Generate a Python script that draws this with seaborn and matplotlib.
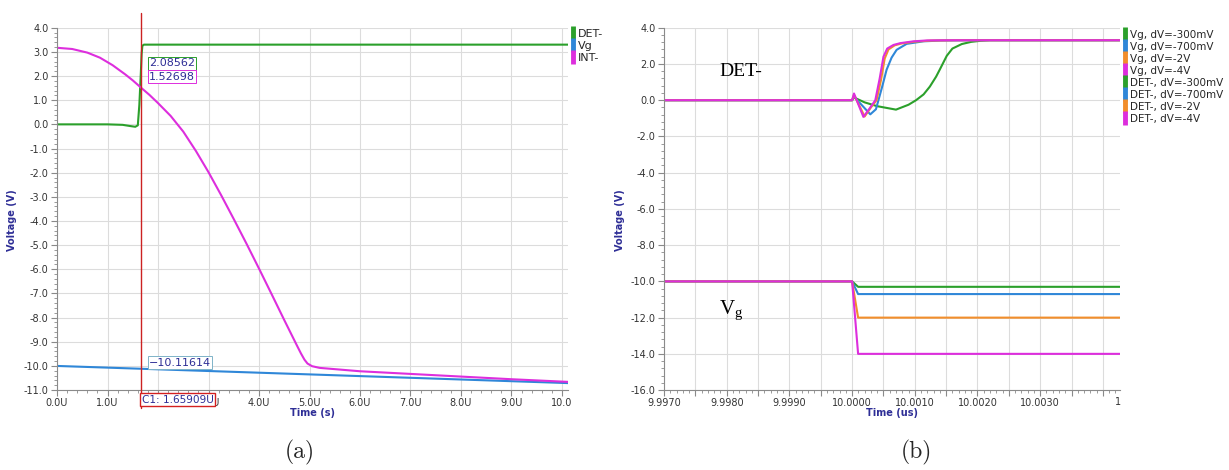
import matplotlib
matplotlib.use("Agg")
import matplotlib.pyplot as plt
import matplotlib.transforms as mtransforms
from matplotlib.lines import Line2D
from matplotlib.ticker import MultipleLocator
import seaborn as sns

GREEN = "#2ba02b"
BLUE = "#2f87d8"
ORANGE = "#f28e2b"
MAGENTA = "#dd2edd"
TEXT_BLUE = "#2e2e96"

# ---- panel (a): time in us ----
A_DET_T = [0.0, 1.0, 1.3, 1.45, 1.55, 1.6, 1.63, 1.659, 1.675, 1.69, 1.72, 10.12]
A_DET_V = [0.0, 0.0, -0.02, -0.07, -0.1, -0.04, 0.8, 2.086, 2.9, 3.25, 3.3, 3.3]

A_VG_T = [0.0, 1.659, 5.0, 10.12]
A_VG_V = [-10.0, -10.116, -10.35, -10.71]

A_INT_T = [0.0, 0.3, 0.6, 0.85, 1.1, 1.35, 1.5, 1.659, 1.83, 2.0, 2.25, 2.5, 2.75,
           3.0, 3.25, 3.5, 3.75, 4.0, 4.25, 4.5, 4.75, 4.83, 4.9, 4.96, 5.05, 5.2,
           6.0, 7.0, 8.0, 9.0, 10.12]
A_INT_V = [3.17, 3.12, 2.97, 2.76, 2.45, 2.07, 1.82, 1.527, 1.22, 0.88, 0.35, -0.3, -1.1,
           -1.98, -2.93, -3.92, -4.93, -5.97, -7.03, -8.1, -9.15, -9.48, -9.74, -9.9, -10.01, -10.08,
           -10.22, -10.33, -10.44, -10.55, -10.66]

A_XTICKS = [0, 1, 2, 3, 4, 5, 6, 7, 8, 9, 10]
A_XLABELS = ["0.0U", "1.0U", "2.0U", "3.0U", "4.0U", "5.0U", "6.0U", "7.0U", "8.0U", "9.0U", "10.0"]
A_YTICKS = [4, 3, 2, 1, 0, -1, -2, -3, -4, -5, -6, -7, -8, -9, -10, -11]

CURSOR_T = 1.659

# ---- panel (b): time in us ----
B_VG_T = [9.997, 10.0, 10.0000957, 10.00427]
B_VG_300 = [-10.0, -10.0, -10.3, -10.3]
B_VG_700 = [-10.0, -10.0, -10.7, -10.7]
B_VG_2 = [-10.0, -10.0, -12.0, -12.0]
B_VG_4 = [-10.0, -10.0, -14.0, -14.0]

B_DET300_T = [9.997, 10.0, 10.00003, 10.0002, 10.0004, 10.0007, 10.0009, 10.00102,
              10.00114, 10.00124, 10.00134, 10.0014, 10.00151, 10.0016, 10.00175,
              10.0019, 10.00205, 10.0022, 10.00427]
B_DET300_V = [0.0, 0.0, 0.15, -0.12, -0.33, -0.52, -0.25, 0.0,
              0.32, 0.75, 1.3, 1.7, 2.45, 2.85, 3.1,
              3.22, 3.28, 3.31, 3.31]

B_DET700_T = [9.997, 10.0, 10.00003, 10.00029, 10.00038, 10.00048, 10.00055, 10.00063,
              10.00071, 10.00087, 10.00114, 10.0014, 10.002, 10.00427]
B_DET700_V = [0.0, 0.0, 0.2, -0.78, -0.5, 0.75, 1.68, 2.35,
              2.78, 3.11, 3.25, 3.29, 3.31, 3.31]

B_DET2_T = [9.997, 10.0, 10.00003, 10.0002, 10.0003, 10.00039, 10.00046, 10.00052,
            10.00058, 10.00068, 10.00079, 10.001, 10.00125, 10.0017, 10.00427]
B_DET2_V = [0.0, 0.0, 0.3, -0.9, -0.4, 0.0, 1.1, 2.3,
            2.8, 3.03, 3.13, 3.23, 3.29, 3.31, 3.31]

B_DET4_T = [9.997, 10.0, 10.00003, 10.00018, 10.00028, 10.00037, 10.00044, 10.0005,
            10.00056, 10.00066, 10.00077, 10.00098, 10.0012, 10.0016, 10.00427]
B_DET4_V = [0.0, 0.0, 0.37, -0.92, -0.45, 0.0, 1.2, 2.4,
            2.85, 3.05, 3.15, 3.25, 3.3, 3.31, 3.31]

B_XTICKS = [9.997, 9.9975, 9.998, 9.9985, 9.999, 9.9995, 10.0, 10.0005,
            10.001, 10.0015, 10.002, 10.0025, 10.003, 10.0035, 10.004]
B_XLABELS = ["9.9970", "", "9.9980", "", "9.9990", "", "10.0000", "",
             "10.0010", "", "10.0020", "", "10.0030", "", ""]
B_YTICKS = [4, 2, 0, -2, -4, -6, -8, -10, -12, -14, -16]

B_LEGEND = ["Vg, dV=-300mV", "Vg, dV=-700mV", "Vg, dV=-2V", "Vg, dV=-4V",
            "DET-, dV=-300mV", "DET-, dV=-700mV", "DET-, dV=-2V", "DET-, dV=-4V"]

sns.set_theme(style="whitegrid", rc={
    "grid.color": "#dcdcdc", "grid.linewidth": 0.8,
    "axes.edgecolor": "#8a8a8a", "axes.linewidth": 0.8,
    "xtick.bottom": True, "ytick.left": True,
})
plt.rcParams["font.family"] = ["DejaVu Sans"]

fig = plt.figure(figsize=(12.29, 4.70), dpi=100)
axa = fig.add_axes([0.0464, 0.170, 0.4158, 0.771])
axb = fig.add_axes([0.5403, 0.170, 0.3710, 0.771])

LW = 1.5


def style_axes(ax):
    for s in ["top", "right"]:
        ax.spines[s].set_visible(False)
    ax.tick_params(axis="both", which="major", direction="out", length=4, width=0.8,
                   color="#8a8a8a", labelsize=7, labelcolor="#333333", pad=2)
    ax.tick_params(axis="both", which="minor", direction="out", length=2, width=0.6,
                   color="#8a8a8a")
    ax.grid(True, which="major")
    ax.grid(False, which="minor")
    ax.set_ylabel("Voltage (V)", fontsize=7, fontweight="bold", color=TEXT_BLUE)


def bar_handles(colors):
    return [Line2D([], [], ls="none", marker="|", markersize=10, mew=3.5, color=c) for c in colors]


# ---------- panel (a) ----------
sns.lineplot(x=A_DET_T, y=A_DET_V, ax=axa, color=GREEN, lw=LW, estimator=None)
sns.lineplot(x=A_VG_T, y=A_VG_V, ax=axa, color=BLUE, lw=LW, estimator=None)
sns.lineplot(x=A_INT_T, y=A_INT_V, ax=axa, color=MAGENTA, lw=LW, estimator=None)
axa.set_xlim(0, 10.12)
axa.set_ylim(-11, 4)
axa.set_xticks(A_XTICKS, A_XLABELS)
axa.set_yticks(A_YTICKS, [f"{v:.1f}" for v in A_YTICKS])
axa.xaxis.set_minor_locator(MultipleLocator(0.2))
axa.yaxis.set_minor_locator(MultipleLocator(0.2))
style_axes(axa)
axa.set_xlabel("Time (s)", fontsize=7, fontweight="bold", color=TEXT_BLUE)
axa.xaxis.set_label_coords(0.5, -0.05)
axa.yaxis.set_label_coords(-0.078, 0.47)

# cursor C1 with its readout box covering the tick labels below
axa.axvline(CURSOR_T, ymin=-0.05, ymax=1.04, color="#cc2222", lw=1.0, clip_on=False, zorder=4)
trans = mtransforms.blended_transform_factory(axa.transData, axa.transAxes)
axa.text(CURSOR_T + 0.02, -0.013, "C1: 1.65909U", transform=trans, ha="left", va="top",
         fontsize=7.6, color=TEXT_BLUE, zorder=10, clip_on=False,
         bbox=dict(boxstyle="square,pad=0.15", fc="white", ec="#d42020", lw=1.0))
axa.text(1.82, 2.53, "2.08562", ha="left", va="center", fontsize=8, color=TEXT_BLUE, zorder=6,
         bbox=dict(boxstyle="square,pad=0.12", fc="white", ec=GREEN, lw=0.7))
axa.text(1.82, 1.97, "1.52698", ha="left", va="center", fontsize=8, color=TEXT_BLUE, zorder=6,
         bbox=dict(boxstyle="square,pad=0.12", fc="white", ec=MAGENTA, lw=0.7))
axa.text(1.82, -9.86, "\u221210.11614", ha="left", va="center", fontsize=8, color=TEXT_BLUE, zorder=6,
         bbox=dict(boxstyle="square,pad=0.12", fc="white", ec="#7fb3c8", lw=0.7))

axa.legend(bar_handles([GREEN, BLUE, MAGENTA]), ["DET-", "Vg", "INT-"],
           loc="upper left", bbox_to_anchor=(1.004, 0.997), frameon=False, fontsize=8,
           handlelength=0.5, handletextpad=0.2, labelspacing=0.2, borderpad=0, borderaxespad=0)

# ---------- panel (b) ----------
for vals, c in [(B_VG_300, GREEN), (B_VG_700, BLUE), (B_VG_2, ORANGE), (B_VG_4, MAGENTA)]:
    sns.lineplot(x=B_VG_T, y=vals, ax=axb, color=c, lw=LW, estimator=None)
for t, v, c in [(B_DET300_T, B_DET300_V, GREEN), (B_DET700_T, B_DET700_V, BLUE),
                (B_DET2_T, B_DET2_V, ORANGE), (B_DET4_T, B_DET4_V, MAGENTA)]:
    sns.lineplot(x=t, y=v, ax=axb, color=c, lw=LW, estimator=None)
axb.set_xlim(9.997, 10.004273)
axb.set_ylim(-16, 4)
axb.set_xticks(B_XTICKS, B_XLABELS)
axb.set_yticks(B_YTICKS, [f"{v:.1f}" for v in B_YTICKS])
axb.xaxis.set_minor_locator(MultipleLocator(0.0001))
axb.yaxis.set_minor_locator(MultipleLocator(0.4))
style_axes(axb)
axb.set_xlabel("Time (us)", fontsize=7, fontweight="bold", color=TEXT_BLUE)
axb.xaxis.set_label_coords(0.5, -0.05)
axb.yaxis.set_label_coords(-0.0855, 0.47)
axb.text(0.995, -0.018, "1", transform=axb.transAxes, ha="center", va="top",
         fontsize=7, color="#333333")

axb.text(9.99788, 1.36, "DET-", fontsize=14, family="Liberation Serif", color="black")
axb.text(9.99788, -11.78, r"$\mathregular{V_g}$", fontsize=15, family="Liberation Serif", color="black")

axb.legend(bar_handles([GREEN, BLUE, ORANGE, MAGENTA] * 2), B_LEGEND,
           loc="upper left", bbox_to_anchor=(1.006, 0.995), frameon=False, fontsize=7.5,
           handlelength=0.5, handletextpad=0.2, labelspacing=0.2, borderpad=0, borderaxespad=0)

fig.text(300 / 1229, 1 - 452 / 470, "(a)", ha="center", va="center", fontsize=17, family="cmr10")
fig.text(916 / 1229, 1 - 452 / 470, "(b)", ha="center", va="center", fontsize=17, family="cmr10")

fig.savefig("out.png", dpi=100, facecolor="white")
